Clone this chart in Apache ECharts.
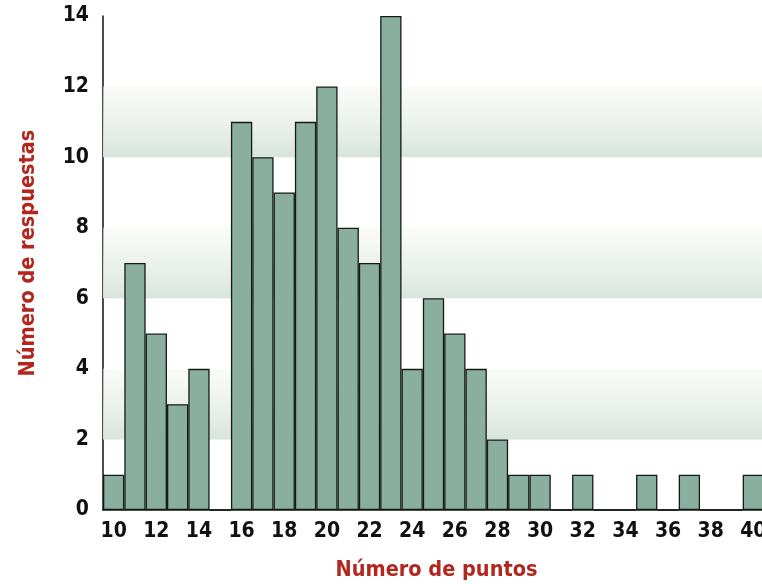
<!DOCTYPE html>
<html>
<head>
<meta charset="utf-8">
<title>Número de respuestas</title>
<script src="https://cdn.jsdelivr.net/npm/echarts@6/dist/echarts.min.js"></script>
<style>
  html, body { margin: 0; padding: 0; background: #fff; }
  #chart { width: 762px; height: 584px; }
</style>
</head>
<body>
<div id="chart"></div>
<script>
// puntos (eje x) y número de respuestas por punto
var puntos = [10, 11, 12, 13, 14, 15, 16, 17, 18, 19, 20, 21, 22, 23, 24, 25, 26, 27, 28, 29, 30,
  31, 32, 33, 34, 35, 36, 37, 38, 39, 40];
var respuestas = [1, 7, 5, 3, 4, 0, 11, 10, 9, 11, 12, 8, 7, 14, 4, 6, 5, 4, 2, 1, 1,
  0, 1, 0, 0, 1, 0, 1, 0, 0, 1];
// franjas sombreadas del fondo
var franjas = [[2, 4], [6, 8], [10, 12]];

var fuente = '"Liberation Sans Narrow", "DejaVu Sans Condensed", Roboto, sans-serif';
var rojo = '#b3261e';

var bandGradient = {
  type: 'linear', x: 0, y: 0, x2: 0, y2: 1,
  colorStops: [
    { offset: 0, color: 'rgba(246,248,245,0.6)' },
    { offset: 1, color: '#d8e4db' }
  ]
};

var myChart = echarts.init(document.getElementById('chart'));
var option = {
  animation: false,
  grid: {
    left: 103,
    right: -2,
    top: 16,
    bottom: 74,
    outerBoundsMode: 'none'
  },
  xAxis: {
    type: 'category',
    data: puntos,
    name: 'Número de puntos',
    nameLocation: 'middle',
    nameGap: 49,
    nameTextStyle: {
      color: rojo,
      fontFamily: fuente,
      fontWeight: 'bold',
      fontSize: 21.5,
      padding: [0, 0, 0, 6]
    },
    axisLine: { lineStyle: { color: '#111', width: 1.5 } },
    axisTick: { show: false },
    axisLabel: {
      interval: 1,
      margin: 11,
      color: '#111',
      fontFamily: fuente,
      fontWeight: 'bold',
      fontSize: 21
    }
  },
  yAxis: {
    type: 'value',
    min: 0,
    max: 14,
    interval: 2,
    name: 'Número de respuestas',
    nameLocation: 'middle',
    nameGap: 64,
    nameTextStyle: {
      color: rojo,
      fontFamily: fuente,
      fontWeight: 'bold',
      fontSize: 21.5,
      padding: [0, 0, 0, 20]
    },
    axisLine: { show: true, lineStyle: { color: '#111', width: 1.5 } },
    axisTick: { show: false },
    splitLine: { show: false },
    axisLabel: {
      margin: 14,
      color: '#111',
      fontFamily: fuente,
      fontWeight: 'bold',
      fontSize: 21
    }
  },
  series: [
    {
      // solo para dibujar las franjas detrás de las barras
      type: 'line',
      data: [],
      z: 1,
      silent: true,
      markArea: {
        silent: true,
        itemStyle: { color: bandGradient },
        data: franjas.map(function (f) {
          return [{ yAxis: f[1] }, { yAxis: f[0] }];
        })
      }
    },
    {
      name: 'Respuestas',
      type: 'bar',
      z: 2,
      data: respuestas,
      barCategoryGap: '0%',
      itemStyle: {
        color: '#8aae9f',
        borderColor: '#151a18',
        borderWidth: 1.3
      }
    }
  ]
};
myChart.setOption(option);
window.addEventListener('resize', function () {
  myChart.resize();
});
</script>
</body>
</html>
